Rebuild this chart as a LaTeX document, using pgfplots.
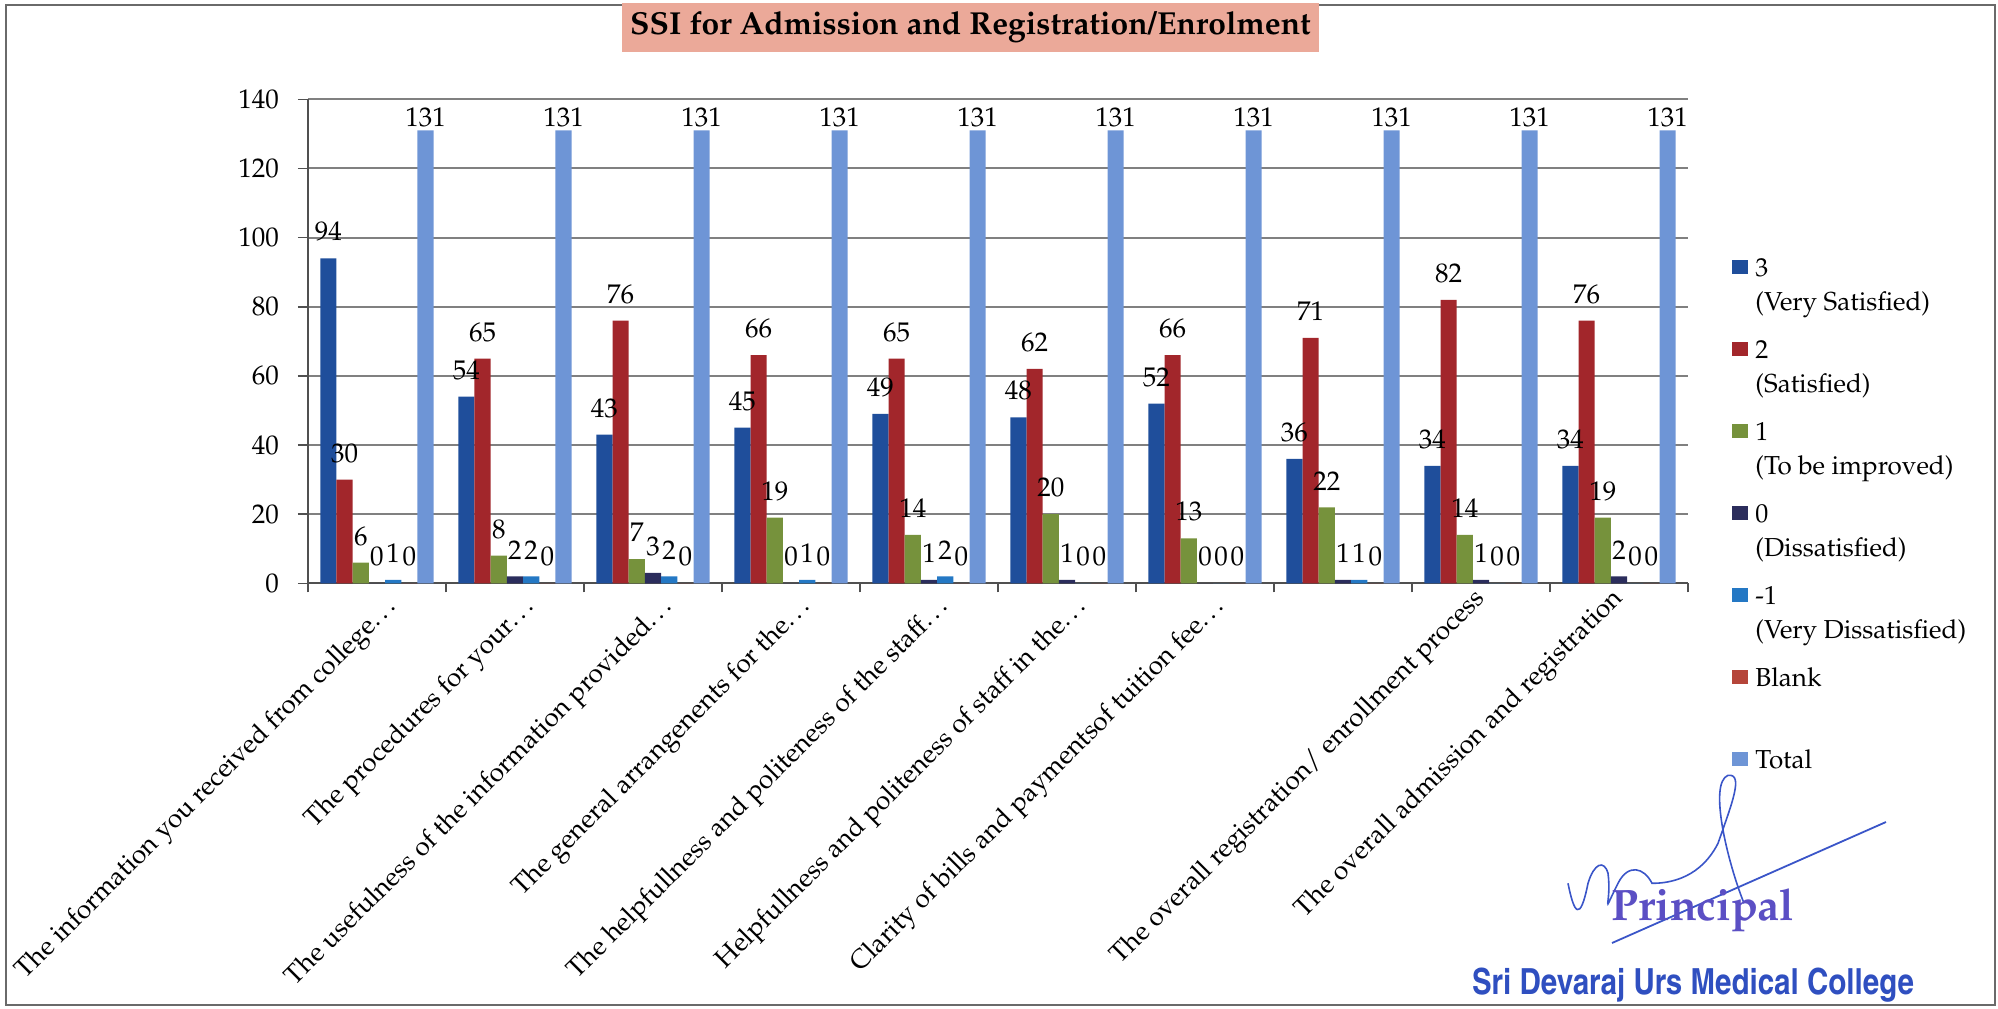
\documentclass[border=0pt]{standalone}
\usepackage[T1]{fontenc}
\usepackage{mathpazo}
\usepackage{pgfplots}
\usepackage{pgfplotstable}
\pgfplotsset{compat=1.18}

\definecolor{c3}{HTML}{1F4E9B}
\definecolor{c2}{HTML}{A2262B}
\definecolor{c1}{HTML}{76923C}
\definecolor{c0}{HTML}{2B2D5C}
\definecolor{cm1}{HTML}{2478C4}
\definecolor{cb}{HTML}{B5453A}
\definecolor{ct}{HTML}{6E95D6}
\definecolor{titlebg}{HTML}{EBA999}
\definecolor{gridc}{HTML}{808080}
\definecolor{axisc}{HTML}{505050}
\definecolor{framec}{HTML}{6A6A6A}
\definecolor{stampp}{HTML}{5B4FC4}
\definecolor{stampb}{HTML}{2F4FC0}
\definecolor{sigc}{HTML}{3A55C8}

\pgfplotstableread{
x v3 v2 v1 v0 vm1 vb vt
0 94 30 6 0 1 0 131
1 54 65 8 2 2 0 131
2 43 76 7 3 2 0 131
3 45 66 19 0 1 0 131
4 49 65 14 1 2 0 131
5 48 62 20 1 0 0 131
6 52 66 13 0 0 0 131
7 36 71 22 1 1 0 131
8 34 82 14 1 0 0 131
9 34 76 19 2 0 0 131
}\datatable

\newcommand{\lentry}[2]{\parbox[t]{5cm}{\strut#1\\\strut#2}}

\begin{document}
\begin{tikzpicture}
\useasboundingbox (-154pt,-212.35pt) rectangle (845pt,291.65pt);
\draw[framec, line width=1pt] (-151pt,-210.85pt) rectangle (843.5pt,289.15pt);
\node[fill=titlebg, minimum width=348.5pt, minimum height=24.5pt, inner sep=0pt,
      font=\bfseries\fontsize{15.9}{18}\selectfont] at (331.25pt,277.9pt)
      {SSI for Admission and Registration/Enrolment};
\begin{axis}[
  at={(0pt,0pt)}, anchor=south west,
  scale only axis, width=690pt, height=242pt,
  xmin=-0.5, xmax=9.5, ymin=0, ymax=140,
  ybar=0pt, bar width=8.1pt,
  ytick={0,20,...,140},
  ymajorgrids, grid style={gridc, line width=1pt},
  axis x line*=bottom, axis y line*=left,
  axis line style={axisc, line width=1pt, -},
  tick align=outside,
  major tick length=5pt, minor tick length=4.5pt,
  tick style={axisc, line width=0.8pt},
  xtick={0,...,7},
  major x tick style={draw=none},
  minor xtick={-0.5,0.5,...,9.5},
  xticklabels={The information you received from college\ldots,
    The procedures for your\ldots,
    The usefulness of the information provided\ldots,
    The general arrangenents for the\ldots,
    The helpfullness and politeness of the staff\ldots,
    Helpfullness and politeness of staff in the\ldots,
    Clarity of bills and paymentsof tuition fee\ldots,
    {}},
  extra x ticks={8,9},
  extra x tick labels={The overall registration/ enrollment process,
    The overall admission and registration},
  extra x tick style={major tick length=0pt,
    xticklabel style={rotate=-45, xshift=-9pt, yshift=-2pt, rotate=45}},
  xticklabel style={xshift=4.4pt, yshift=2.4pt, rotate=45, anchor=north east, inner sep=1pt,
    font=\fontsize{13.2}{16}\selectfont},
  yticklabel style={font=\fontsize{13.5}{16}\selectfont, xshift=-6pt},
  nodes near coords,
  every node near coord/.append style={font=\fontsize{13.5}{15}\selectfont, black, yshift=5pt},
  legend style={at={(axis description cs:1.0319,0.684)}, anchor=north west,
    draw=none, fill=none, inner sep=0pt, row sep=7pt,
    font=\fontsize{13}{17}\selectfont,
    cells={anchor=base west},
    nodes={inner sep=0pt, text height=11.9pt, text depth=22.1pt},
    /tikz/every odd column/.append style={column sep=3.5pt}},
  legend image code/.code={\fill[#1] (0pt,1pt) rectangle (8pt,8pt);},
]
\addplot[fill=c3, draw=none, bar shift=-24.3pt] table[x=x, y=v3] {\datatable};
\addlegendentry{\lentry{3}{(Very Satisfied)}}
\addplot[fill=c2, draw=none, bar shift=-16.2pt] table[x=x, y=v2] {\datatable};
\addlegendentry{\lentry{2}{(Satisfied)}}
\addplot[fill=c1, draw=none, bar shift=-8.1pt] table[x=x, y=v1] {\datatable};
\addlegendentry{\lentry{1}{(To be improved)}}
\addplot[fill=c0, draw=none, bar shift=0pt] table[x=x, y=v0] {\datatable};
\addlegendentry{\lentry{0}{(Dissatisfied)}}
\addplot[fill=cm1, draw=none, bar shift=8.1pt] table[x=x, y=vm1] {\datatable};
\addlegendentry{\lentry{-1}{(Very Dissatisfied)}}
\addplot[fill=cb, draw=none, bar shift=16.2pt] table[x=x, y=vb] {\datatable};
\addlegendentry{\lentry{Blank}{}}
\addplot[fill=ct, draw=none, bar shift=24.3pt,
  every node near coord/.append style={yshift=-7pt}] table[x=x, y=vt] {\datatable};
\addlegendentry{\strut Total}
\end{axis}
\draw[sigc, line width=0.9pt] (652pt,-179.85pt) -- (789pt,-119.35pt);
\draw[sigc, line width=0.8pt] (630pt,-150pt) .. controls (633pt,-165pt) and (636pt,-170pt) .. (640pt,-150pt)
  .. controls (643pt,-140pt) and (648pt,-138pt) .. (650pt,-145pt)
  .. controls (652pt,-160pt) and (646pt,-168pt) .. (655pt,-150pt)
  .. controls (660pt,-140pt) and (668pt,-142pt) .. (672pt,-150pt)
  .. controls (690pt,-150pt) and (700pt,-140pt) .. (705pt,-130pt)
  .. controls (712pt,-110pt) and (718pt,-95pt) .. (710pt,-96pt)
  .. controls (700pt,-100pt) and (710pt,-140pt) .. (718pt,-160pt);
\node[stampp, font=\bfseries\fontsize{22}{25}\selectfont] at (697.5pt,-163.35pt) {Principal};
\node[stampb, font=\fontfamily{phv}\fontseries{bc}\fontsize{18}{21}\selectfont] at (692.5pt,-201.1pt) {Sri Devaraj Urs Medical College};
\end{tikzpicture}
\end{document}
